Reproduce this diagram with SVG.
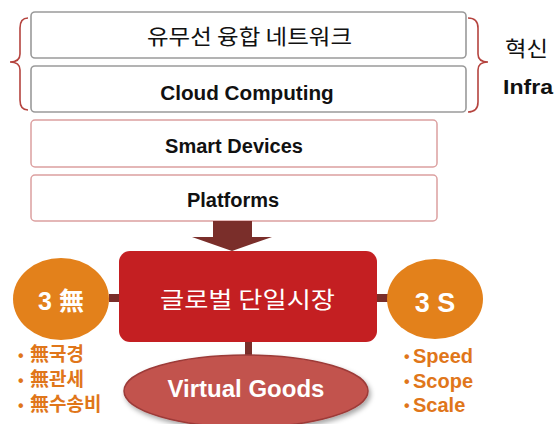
<svg xmlns="http://www.w3.org/2000/svg" width="558" height="424" viewBox="0 0 558 424">
  <defs>
    <style>
      .kr { font-family: "Noto Sans CJK KR", "Liberation Sans", sans-serif; }
      .en { font-family: "Liberation Sans", "Noto Sans CJK KR", sans-serif; font-weight: bold; }
      .layer-gray { fill: #ffffff; stroke: #9a9a9a; stroke-width: 1.6; }
      .layer-pink { fill: #ffffff; stroke: #dca0a0; stroke-width: 1.5; }
      .brace { fill: none; stroke: #b5443f; stroke-width: 1.6; }
      .link { fill: #7a2e2a; }
      .orange { fill: #e3811b; }
      .bullet { fill: #e0761a; }
    </style>
    <filter id="shadow" x="-10%" y="-20%" width="130%" height="150%">
      <feDropShadow dx="2" dy="3" stdDeviation="2.5" flood-color="#000" flood-opacity="0.35"/>
    </filter>
  </defs>

  <!-- infrastructure layers -->
  <g id="layer-network">
    <rect class="layer-gray" x="31" y="12" width="435" height="46" rx="4"/>
    <text class="kr" x="147" y="44" font-size="21" textLength="205" lengthAdjust="spacingAndGlyphs" fill="#111">유무선 융합 네트워크</text>
  </g>
  <g id="layer-cloud">
    <rect class="layer-gray" x="31" y="66" width="435" height="46" rx="4"/>
    <text class="en" x="247" y="100" font-size="20.7" text-anchor="middle" fill="#111">Cloud Computing</text>
  </g>
  <g id="layer-devices">
    <rect class="layer-pink" x="31" y="120" width="406" height="47" rx="4"/>
    <text class="en" x="234" y="153" font-size="20" text-anchor="middle" fill="#111">Smart Devices</text>
  </g>
  <g id="layer-platforms">
    <rect class="layer-pink" x="31" y="175" width="406" height="46" rx="4"/>
    <text class="en" x="233" y="207" font-size="20" text-anchor="middle" fill="#111">Platforms</text>
  </g>

  <!-- braces around the top two layers -->
  <g id="braces">
    <path class="brace" d="M28,18 Q20,18 20,28 L20,54 Q20,62 10,62 Q20,62 20,70 L20,100 Q20,110 28,110"/>
    <path class="brace" d="M468,18 Q478,18 478,28 L478,54 Q478,62 488,62 Q478,62 478,70 L478,102 Q478,112 468,112"/>
  </g>

  <g id="label-infra">
    <text class="kr" x="505" y="56" font-size="21" textLength="43" lengthAdjust="spacingAndGlyphs" fill="#111">혁신</text>
    <text class="en" x="503" y="94" font-size="21" textLength="50" lengthAdjust="spacingAndGlyphs" fill="#111">Infra</text>
  </g>

  <!-- connectors -->
  <g id="connectors">
    <path class="link" d="M213,221 L252,221 L252,237 L272,237 L232,251 L192,237 L213,237 Z"/>
    <rect class="link" x="109" y="294" width="12" height="8"/>
    <rect class="link" x="376" y="294" width="13" height="8"/>
    <rect class="link" x="245" y="341" width="7" height="16"/>
  </g>

  <!-- central market -->
  <g id="global-market">
    <rect x="119" y="251" width="258" height="91" rx="11" fill="#c41f22"/>
    <text class="kr" x="160" y="308" font-size="23" textLength="175" lengthAdjust="spacingAndGlyphs" fill="#ffffff">글로벌 단일시장</text>
  </g>

  <g id="three-mu">
    <ellipse class="orange" cx="61" cy="299" rx="48" ry="41"/>
    <text class="en" x="61" y="310" font-size="25" text-anchor="middle" fill="#ffffff">3 <tspan class="kr" font-weight="bold">無</tspan></text>
    <g class="bullet" font-size="19">
      <text class="en" x="18" y="361" font-size="16">•</text>
      <text class="kr" font-weight="bold" x="30" y="361">無국경</text>
      <text class="en" x="18" y="386" font-size="16">•</text>
      <text class="kr" font-weight="bold" x="30" y="386">無관세</text>
      <text class="en" x="18" y="411" font-size="16">•</text>
      <text class="kr" font-weight="bold" x="30" y="411">無수송비</text>
    </g>
  </g>

  <g id="three-s">
    <ellipse class="orange" cx="435" cy="299" rx="48" ry="40"/>
    <text class="en" x="435" y="312" font-size="27" text-anchor="middle" fill="#ffffff">3 S</text>
    <g class="bullet en" font-size="20">
      <text x="404" y="362" font-size="16">•</text>
      <text x="413" y="363">Speed</text>
      <text x="404" y="387" font-size="16">•</text>
      <text x="413" y="388">Scope</text>
      <text x="404" y="411" font-size="16">•</text>
      <text x="413" y="412">Scale</text>
    </g>
  </g>

  <g id="virtual-goods">
    <ellipse cx="246" cy="391" rx="122" ry="36" fill="#c2524e" stroke="#9c3b38" stroke-width="1.5" filter="url(#shadow)"/>
    <text class="en" x="246" y="397" font-size="24" text-anchor="middle" fill="#ffffff">Virtual Goods</text>
  </g>
</svg>
